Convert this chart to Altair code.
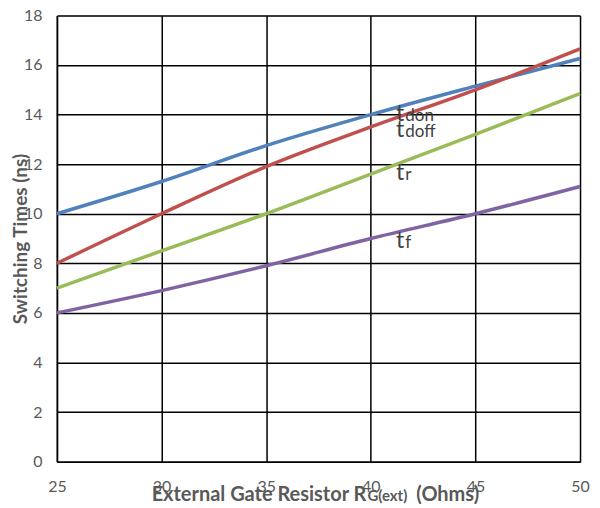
import altair as alt
import pandas as pd

resistance = [25, 30, 35, 40, 45, 50]
t_don = [10.0, 11.3, 12.75, 14.0, 15.15, 16.26]
t_doff = [8.0, 10.0, 11.9, 13.5, 15.0, 16.65]
t_r = [7.0, 8.5, 10.0, 11.6, 13.2, 14.85]
t_f = [6.0, 6.9, 7.9, 9.0, 10.0, 11.1]
series_names = ["tdon", "tdoff", "tr", "tf"]
series_colors = ["#4F81BD", "#C0504D", "#9BBB59", "#8064A2"]

label_main = ["t", "t", "t", "t"]
label_sub = ["don", "doff", "r", "f"]
label_x = [41.2, 41.2, 41.2, 41.2]
label_sub_x = [41.65, 41.65, 41.65, 41.65]
label_y = [13.73, 13.09, 11.36, 8.62]

rows = []
for name, vals in zip(series_names, [t_don, t_doff, t_r, t_f]):
    for r, v in zip(resistance, vals):
        rows.append({"R": r, "t": v, "series": name})
df = pd.DataFrame(rows)
lab = pd.DataFrame({"x": label_x, "xs": label_sub_x, "y": label_y,
                    "main": label_main, "sub": label_sub})

FONT = "Lato"
GRAY = "#595959"

xscale = alt.Scale(domain=[25, 50], nice=False, zero=False)
yscale = alt.Scale(domain=[0, 18], nice=False)

lines = alt.Chart(df).mark_line(strokeWidth=3.5, interpolate="monotone").encode(
    x=alt.X("R:Q", scale=xscale,
            axis=alt.Axis(values=resistance, title=None, grid=True, gridColor="black",
                          gridWidth=1.5, gridOpacity=1, ticks=False, domainColor="black",
                          domainWidth=1.5, labelFont=FONT, labelFontSize=16,
                          labelColor=GRAY, labelPadding=17, labelFlush=False,
                          labelOverlap=False)),
    y=alt.Y("t:Q", scale=yscale,
            axis=alt.Axis(values=list(range(0, 19, 2)), title=None, grid=True,
                          gridColor="black", gridWidth=1.5, gridOpacity=1, ticks=False,
                          domainColor="black", domainWidth=1.5, labelFont=FONT,
                          labelFontSize=16, labelColor=GRAY, labelPadding=15,
                          labelFlush=False)),
    color=alt.Color("series:N", scale=alt.Scale(domain=series_names, range=series_colors),
                    legend=None),
)

main_txt = alt.Chart(lab).mark_text(font=FONT, fontSize=23, color="#404040",
                                    align="left", baseline="alphabetic").encode(
    x=alt.X("x:Q", scale=xscale), y=alt.Y("y:Q", scale=yscale), text="main:N")
sub_txt = alt.Chart(lab).mark_text(font=FONT, fontSize=17, color="#404040",
                                   align="left", baseline="alphabetic").encode(
    x=alt.X("xs:Q", scale=xscale), y=alt.Y("y:Q", scale=yscale), text="sub:N")

ytitle = alt.Chart(pd.DataFrame({"t": ["Switching Times (ns)"]})).mark_text(
    font=FONT, fontSize=19, fontWeight="bold", color=GRAY, angle=270,
    align="center", baseline="middle").encode(
    x=alt.value(-36), y=alt.value(224), text="t:N")

xt1 = alt.Chart(pd.DataFrame({"t": ["External Gate Resistor R"]})).mark_text(
    font=FONT, fontSize=20, fontWeight="bold", color=GRAY, align="right",
    baseline="alphabetic").encode(x=alt.value(310), y=alt.value(486), text="t:N")
xt2 = alt.Chart(pd.DataFrame({"t": ["G(ext)"]})).mark_text(
    font=FONT, fontSize=15, fontWeight="bold", color=GRAY, align="left",
    baseline="alphabetic").encode(x=alt.value(311), y=alt.value(486), text="t:N")
xt3 = alt.Chart(pd.DataFrame({"t": ["(Ohms)"]})).mark_text(
    font=FONT, fontSize=20, fontWeight="bold", color=GRAY, align="left",
    baseline="alphabetic").encode(x=alt.value(360), y=alt.value(486), text="t:N")

chart = alt.layer(lines, main_txt, sub_txt, ytitle, xt1, xt2, xt3).properties(
    width=524, height=447,
    autosize=alt.AutoSizeParams(type="none"),
    padding={"left": 49, "top": 7, "right": 12, "bottom": 42},
).configure_view(stroke="black", strokeWidth=2).configure(background="white")

chart.save("out.html", embed_options={"renderer": "svg", "actions": False})
